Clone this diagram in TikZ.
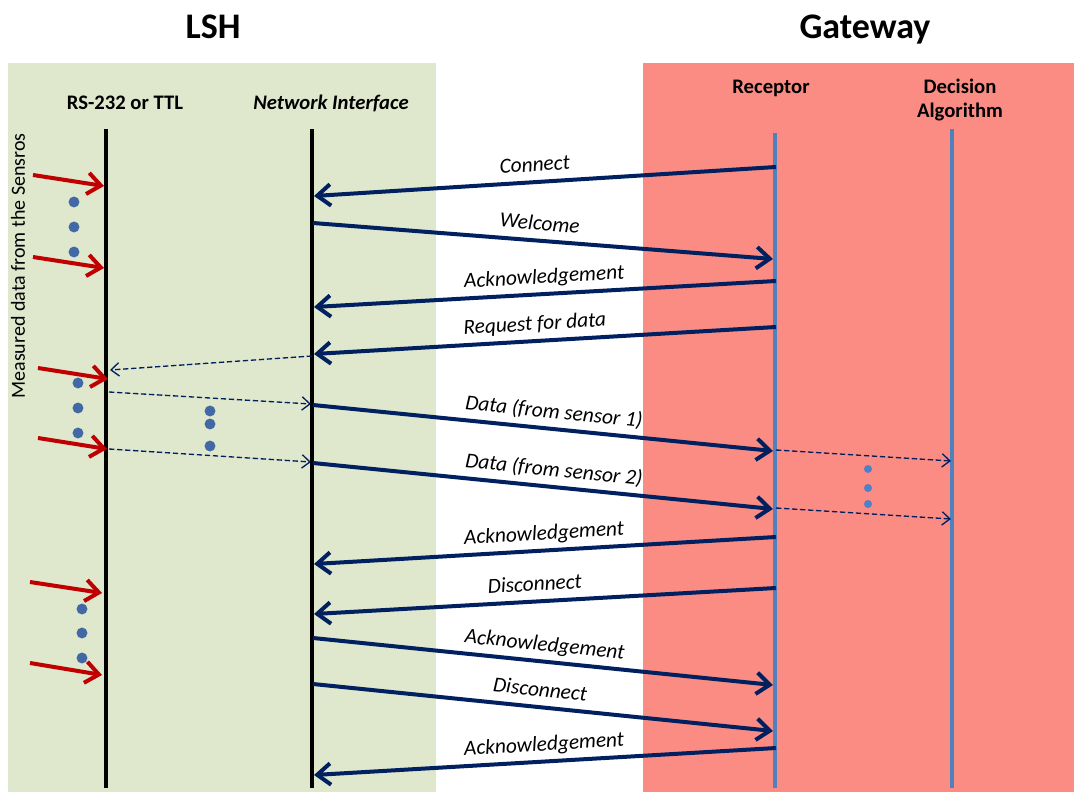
\documentclass[tikz,border=0pt]{standalone}
\usepackage{fontspec}
\setmainfont{Carlito}
\usetikzlibrary{arrows.meta}
\definecolor{navy}{RGB}{0,32,96}
\definecolor{lshgreen}{RGB}{223,231,205}
\definecolor{gwred}{RGB}{250,140,132}
\definecolor{lifeblue}{RGB}{79,129,189}
\definecolor{darkred}{RGB}{192,0,0}
\definecolor{dotblue}{RGB}{66,105,165}
\definecolor{dotlight}{RGB}{79,129,200}
\begin{document}
\begin{tikzpicture}[x=0.75pt,y=-0.75pt,
  ttl/.style={font=\fontsize{27}{32}\selectfont\bfseries, inner sep=0pt, anchor=base},
  col/.style={font=\fontsize{15.5}{18}\selectfont\bfseries, inner sep=0pt, align=center},
  lbl/.style={font=\fontsize{16}{19}\selectfont\itshape, text=black, sloped, above=6.5pt, inner sep=0pt, text depth=0pt},
  lifeblack/.style={black, line width=3pt},
  lifeblu/.style={lifeblue, line width=3pt},
  msg/.style={navy, line width=3pt, -{Straight Barb[length=10pt,width=16pt]}},
  dmsg/.style={navy, line width=1pt, dash pattern=on 4pt off 2pt, -{Straight Barb[length=6pt,width=10pt]}},
  redarr/.style={darkred, line width=3pt, -{Straight Barb[length=10pt,width=16pt]}},
  dotl/.style={fill=dotblue, draw=none},
  dotr/.style={fill=dotlight, draw=none}]
\useasboundingbox (0,0) rectangle (1074,792);
% panels
\fill[lshgreen] (8,63) rectangle (436,792);
\fill[gwred] (643,63) rectangle (1074,792);
% titles
\node[ttl] (tLSH) at (213,39) {LSH};
\node[ttl] (tGW) at (865,39) {Gateway};
\node[col] (hRS) at (125,103) {RS-232 or TTL};
\node[col, font=\fontsize{15.5}{18}\selectfont\bfseries\itshape] (hNI) at (331,103) {Network Interface};
\node[col] (hRE) at (771,88) {Receptor};
\node[col] (hDA) at (960,100) {Decision\\Algorithm};
\node[font=\fontsize{15}{18}\selectfont, rotate=90, inner sep=0pt] (side) at (18,266) {Measured data from the Sensros};
% lifelines
\coordinate (rsT) at (106,129); \coordinate (rsB) at (106,788);
\coordinate (niT) at (312,129); \coordinate (niB) at (312,788);
\coordinate (reT) at (775,133); \coordinate (reB) at (775,788);
\coordinate (daT) at (952,129); \coordinate (daB) at (952,788);
\draw[lifeblack] (rsT) -- (rsB);
\draw[lifeblack] (niT) -- (niB);
\draw[lifeblu] (reT) -- (reB);
\draw[lifeblu] (daT) -- (daB);
% message end points
\coordinate (m1a) at (776,167); \coordinate (m1b) at (314,196);
\coordinate (m2a) at (313,223); \coordinate (m2b) at (773,259);
\coordinate (m3a) at (776,281); \coordinate (m3b) at (314,307);
\coordinate (m4a) at (776,327); \coordinate (m4b) at (314,354);
\coordinate (m5a) at (313,405); \coordinate (m5b) at (773,451);
\coordinate (m6a) at (313,463); \coordinate (m6b) at (773,509);
\coordinate (m7a) at (776,537); \coordinate (m7b) at (314,564);
\coordinate (m8a) at (776,588); \coordinate (m8b) at (314,614);
\coordinate (m9a) at (313,638); \coordinate (m9b) at (773,685);
\coordinate (m10a) at (313,684); \coordinate (m10b) at (773,731);
\coordinate (m11a) at (776,748); \coordinate (m11b) at (314,775);
\draw[msg] (m1a) -- node[lbl, pos=0.52] {Connect} (m1b);
\draw[msg] (m2a) -- node[lbl, pos=0.49] {Welcome} (m2b);
\draw[msg] (m3a) -- node[lbl, pos=0.5] {Acknowledgement} (m3b);
\draw[msg] (m4a) -- node[lbl, pos=0.52] {Request for data} (m4b);
\draw[msg] (m5a) -- node[lbl, pos=0.52] {Data (from sensor 1)} (m5b);
\draw[msg] (m6a) -- node[lbl, pos=0.52] {Data (from sensor 2)} (m6b);
\draw[msg] (m7a) -- node[lbl, pos=0.5] {Acknowledgement} (m7b);
\draw[msg] (m8a) -- node[lbl, pos=0.52] {Disconnect} (m8b);
\draw[msg] (m9a) -- node[lbl, pos=0.5] {Acknowledgement} (m9b);
\draw[msg] (m10a) -- node[lbl, pos=0.49] {Disconnect} (m10b);
\draw[msg] (m11a) -- node[lbl, pos=0.5] {Acknowledgement} (m11b);
% dashed internal messages
\coordinate (d1a) at (312,356); \coordinate (d1b) at (110,370);
\coordinate (d2a) at (109,392); \coordinate (d2b) at (311,404);
\coordinate (d3a) at (109,449); \coordinate (d3b) at (311,462);
\coordinate (d4a) at (776,450); \coordinate (d4b) at (951,461);
\coordinate (d5a) at (776,508); \coordinate (d5b) at (951,519);
\draw[dmsg] (d1a) -- (d1b);
\draw[dmsg] (d2a) -- (d2b);
\draw[dmsg] (d3a) -- (d3b);
\draw[dmsg] (d4a) -- (d4b);
\draw[dmsg] (d5a) -- (d5b);
% sensor inputs
\coordinate (r1a) at (33,175); \coordinate (r1b) at (104,186);
\coordinate (r2a) at (33,257); \coordinate (r2b) at (104,268);
\coordinate (r3a) at (38,368); \coordinate (r3b) at (108,379);
\coordinate (r4a) at (38,438); \coordinate (r4b) at (107,449);
\coordinate (r5a) at (30,582); \coordinate (r5b) at (102,593);
\coordinate (r6a) at (30,663); \coordinate (r6b) at (102,675);
\draw[redarr] (r1a) -- (r1b);
\draw[redarr] (r2a) -- (r2b);
\draw[redarr] (r3a) -- (r3b);
\draw[redarr] (r4a) -- (r4b);
\draw[redarr] (r5a) -- (r5b);
\draw[redarr] (r6a) -- (r6b);
% ellipsis dots
\foreach \x/\y in {74/202,74/227,74/252,78/383,78/408,78/433,210/411,210/424,210/446,82/609,82/633,82/658}
  \fill[dotl] (\x,\y) circle (4.1pt);
\foreach \y in {469,488,504}
  \fill[dotr] (868,\y) circle (3pt);
\end{tikzpicture}
\end{document}
